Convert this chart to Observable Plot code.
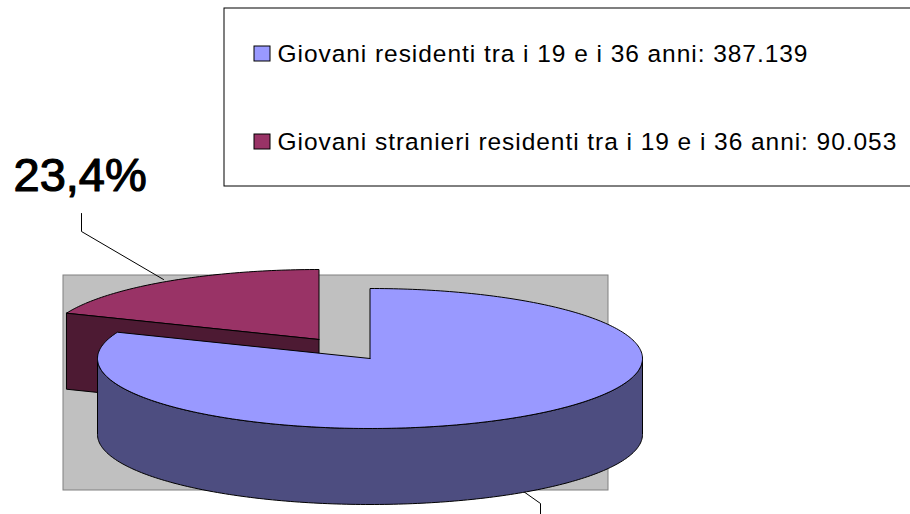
<!DOCTYPE html>
<html>
<head>
<meta charset="utf-8">
<script src="https://cdn.jsdelivr.net/npm/d3@7"></script>
<script src="https://cdn.jsdelivr.net/npm/@observablehq/plot@0.6"></script>
<style>
html,body{margin:0;padding:0;background:#fff}
svg{display:block}
.leg text{letter-spacing:0.95px}
</style>
</head>
<body>
<div id="chart"></div>
<script>
const categories = ["Giovani residenti tra i 19 e i 36 anni", "Giovani stranieri residenti tra i 19 e i 36 anni"];
const valueLabels = ["387.139", "90.053"];
const values = [387139, 90053];
const calloutLabels = ["23,4%"];
const topColors = ["#9999FF", "#993366"];
const sideColors = ["#4D4D80", "#4D1A33"];

// Pie layout (view units map 1:1 to the picture)
const centre = {x: 369.5, y: 358};
const explode = {x: -51, y: -19};
const rx = 272.5, ry = 70, depth = 76;
const total = d3.sum(values);
const cut = 360 * values[0] / total; // the first slice runs clockwise from 12 o'clock

const pt = (deg, c, dy = 0) => {
  const a = deg * Math.PI / 180;
  return {x: c.x + rx * Math.sin(a), y: c.y - ry * Math.cos(a) + dy};
};
const arc = (from, to, c, dy = 0) => {
  const n = Math.max(2, Math.ceil(Math.abs(to - from)));
  return d3.range(n + 1).map(i => pt(from + (to - from) * i / n, c, dy));
};
const close = ps => [...ps, ps[0]];

const maroonC = {x: centre.x + explode.x, y: centre.y + explode.y};
const blueTop = close([centre, ...arc(0, cut, centre)]);
const blueSide = close([...arc(90, 270, centre), ...arc(270, 90, centre, depth)]);
const maroonTop = close([maroonC, ...arc(cut, 360, maroonC)]);
const maroonWall = close([pt(cut, maroonC), maroonC,
  {x: maroonC.x, y: maroonC.y + depth}, pt(cut, maroonC, depth)]);

const plotFrame = [{x1: 63, x2: 608, y1: 275, y2: 490}];
const legendBox = [{x1: 224, x2: 920, y1: 8, y2: 186}];
const legendRows = categories.map((c, i) => ({
  label: `${c}: ${valueLabels[i]}`, color: topColors[i],
  y: [54, 142][i]
}));
const leaderA = [{x: 81, y: 213}, {x: 81, y: 231}, {x: 163, y: 279}];
const leaderB = [{x: 523, y: 491}, {x: 540, y: 503}, {x: 540, y: 516}];

const shape = (d, fill) => Plot.line(d, {x: "x", y: "y", fill, stroke: "#000", strokeWidth: 1, strokeLinejoin: "round"});
const font = "Liberation Sans, Arial, sans-serif";

const chart = Plot.plot({
  width: 910, height: 514,
  margin: 0,
  x: {domain: [0, 910], axis: null},
  y: {domain: [514, 0], axis: null},
  style: {background: "#fff"},
  marks: [
    Plot.rect(plotFrame, {x1: "x1", x2: "x2", y1: "y1", y2: "y2", fill: "#C0C0C0", stroke: "#808080"}),
    Plot.line(leaderA, {x: "x", y: "y", stroke: "#000", strokeWidth: 1}),
    Plot.line(leaderB, {x: "x", y: "y", stroke: "#000", strokeWidth: 1}),
    shape(maroonTop, topColors[1]),
    shape(maroonWall, sideColors[1]),
    shape(blueSide, sideColors[0]),
    shape(blueTop, topColors[0]),
    Plot.rect(legendBox, {x1: "x1", x2: "x2", y1: "y1", y2: "y2", fill: "#fff", stroke: "#000"}),
    Plot.rect(legendRows, {x1: () => 254, x2: () => 270, y1: d => d.y - 8, y2: d => d.y + 7, fill: "color", stroke: "#000"}),
    Plot.text(legendRows, {x: () => 277, y: "y", text: "label", textAnchor: "start", fontFamily: font, fontSize: 24.5, fill: "#000", className: "leg"}),
    Plot.text(calloutLabels, {x: () => 13, y: () => 175, text: d => d, textAnchor: "start", fontFamily: font, fontSize: 47, fill: "#000", stroke: "#000", strokeWidth: 1.2})
  ]
});
document.getElementById("chart").append(chart);
</script>
</body>
</html>
